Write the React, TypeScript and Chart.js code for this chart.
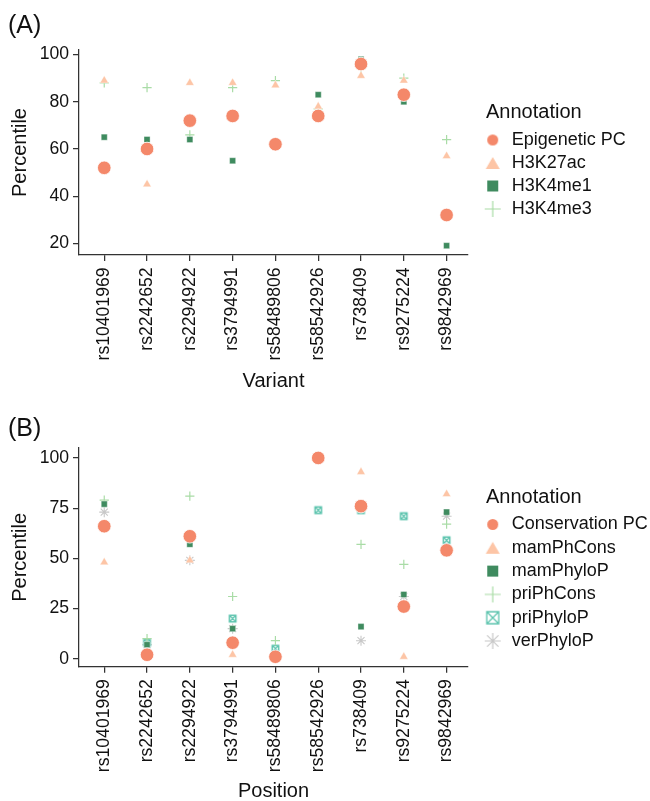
import React, { useEffect, useRef } from 'react';
import { Chart, registerables } from 'chart.js';

Chart.register(...registerables);

const FONT = "'Liberation Sans', Arial, Helvetica, sans-serif";

// ---------- data ----------
const variants = [
  'rs10401969', 'rs2242652', 'rs2294922', 'rs3794991', 'rs58489806',
  'rs58542926', 'rs738409', 'rs9275224', 'rs9842969',
];

// Panel A (epigenetic annotations)
const epigeneticPC = [52, 60, 72, 74, 62, 74, 96, 83, 32];
const h3k27ac = [89, 45, 88, 88, 87, 78, 91, 89, 57];
const h3k4me1 = [65, 64, 64, 55, 62, 83, 98, 80, 19];
const h3k4me3 = [88, 86, 66, 86, 89, 77, 94, 90, 64];

// Panel B (conservation annotations)
const conservationPC = [66, 2, 61, 8, 1, 100, 76, 26, 54];
const mamPhCons = [48, 2, 49, 2, 1, 100, 93, 1, 82];
const mamPhyloP = [77, 7, 57, 15, 2, 100, 16, 32, 73];
const priPhCons = [79, 10, 81, 31, 9, 100, 57, 47, 67];
const priPhyloP = [66, 8, 61, 20, 5, 74, 74, 71, 59];
const verPhyloP = [73, 7, 49, 15, 2, 100, 9, 31, 71];

const yTicksA = [20, 40, 60, 80, 100];
const yTicksB = [0, 25, 50, 75, 100];

// ---------- styles ----------
const C_CIRCLE = '#F4886A';
const C_TRI = '#FDC5A6';
const C_SQ = '#3F8B5F';
const C_PLUS = '#A9DCA6';
const C_BOX = '#5DC4AE';
const C_STAR = '#C8C8C8';

const TICK_SIZE = 17.6;

type Kind = 'circle' | 'triangle' | 'square' | 'plus' | 'boxX' | 'star';

function makeMarker(kind: Kind, color: string, size: number, lw = 1.2): HTMLCanvasElement {
  const dim = Math.ceil(size) + 4;
  const c = document.createElement('canvas');
  c.width = dim;
  c.height = dim;
  const g = c.getContext('2d')!;
  const m = dim / 2;
  const h = size / 2;
  g.fillStyle = color;
  g.strokeStyle = color;
  g.lineWidth = lw;
  g.beginPath();
  if (kind === 'circle') {
    g.arc(m, m, h, 0, Math.PI * 2);
    g.fill();
  } else if (kind === 'triangle') {
    const th = size * 0.86;
    g.moveTo(m, m - th / 2);
    g.lineTo(m + h, m + th / 2);
    g.lineTo(m - h, m + th / 2);
    g.closePath();
    g.fill();
  } else if (kind === 'square') {
    g.fillRect(m - h, m - h, size, size);
  } else if (kind === 'plus') {
    g.moveTo(m - h, m);
    g.lineTo(m + h, m);
    g.moveTo(m, m - h);
    g.lineTo(m, m + h);
    g.stroke();
  } else if (kind === 'boxX') {
    g.rect(m - h, m - h, size, size);
    g.moveTo(m - h, m - h);
    g.lineTo(m + h, m + h);
    g.moveTo(m + h, m - h);
    g.lineTo(m - h, m + h);
    g.stroke();
  } else if (kind === 'star') {
    for (let k = 0; k < 4; k++) {
      const a = (k * Math.PI) / 4;
      g.moveTo(m - Math.cos(a) * h, m - Math.sin(a) * h);
      g.lineTo(m + Math.cos(a) * h, m + Math.sin(a) * h);
    }
    g.stroke();
  }
  return c;
}

const legendSizes: Record<Kind, [number, number]> = {
  circle: [11, 1],
  triangle: [14, 1],
  square: [11, 1],
  plus: [16, 1.2],
  boxX: [12, 1.3],
  star: [16, 1.2],
};

function colorOf(kind: Kind): string {
  return { circle: C_CIRCLE, triangle: C_TRI, square: C_SQ, plus: C_PLUS, boxX: C_BOX, star: C_STAR }[kind];
}

function pointProps(kind: Kind): any {
  const col = colorOf(kind);
  switch (kind) {
    case 'circle':
      return { pointStyle: 'circle', pointRadius: 6.8, backgroundColor: col, borderColor: '#ffffff', borderWidth: 0.8 };
    case 'triangle':
      return { pointStyle: 'triangle', pointRadius: 4.9, backgroundColor: col, borderColor: '#ffffff', borderWidth: 0.4 };
    case 'square':
      return { pointStyle: 'rect', pointRadius: 4.3, backgroundColor: col, borderColor: '#ffffff', borderWidth: 0.4 };
    case 'plus':
      return { pointStyle: 'cross', pointRadius: 4.6, backgroundColor: col, borderColor: col, borderWidth: 1.2 };
    case 'boxX':
      return { pointStyle: makeMarker('boxX', col, 6.5, 1.4), pointRadius: 4, backgroundColor: col, borderColor: col, borderWidth: 1 };
    case 'star':
    default:
      return { pointStyle: 'star', pointRadius: 5, backgroundColor: col, borderColor: col, borderWidth: 1.1 };
  }
}

interface Series { label: string; values: number[]; kind: Kind }

interface PanelSpec {
  title: string;
  xTitle: string;
  series: Series[];
  yMin: number;
  yMax: number;
  yTicks: number[];
  titlePad: { top: number; bottom: number };
  xScaleHeight: number;
  xTitlePadBottom: number;
  legendTitlePad: { top: number; bottom: number };
  legendPadding: number;
}

function buildChart(canvas: HTMLCanvasElement, spec: PanelSpec): Chart {
  const legendMarkers = spec.series.map((s) => {
    const [sz, lw] = legendSizes[s.kind];
    return makeMarker(s.kind, colorOf(s.kind), sz, lw);
  });

  const datasets = spec.series.map((s) => ({
    label: s.label,
    data: s.values.map((v, i) => ({ x: i, y: v })),
    showLine: false,
    ...pointProps(s.kind),
    pointHoverRadius: 0,
  }));

  const legendFix = {
    id: 'legendFix',
    beforeLayout(chart: any) {
      const lg = chart.legend;
      if (lg && !lg.__patched) {
        const orig = lg.fit;
        lg.fit = function () {
          orig.call(this);
          this.width = 182;
        };
        lg.__patched = true;
      }
    },
    afterLayout(chart: any) {
      const lg = chart.legend;
      if (!lg) return;
      const ctx = chart.ctx;
      ctx.save();
      ctx.font = `20px ${FONT}`;
      const tw = ctx.measureText('Annotation').width;
      ctx.restore();
      const left = 492.7 - spec.legendPadding - 10;
      const titleCenter = 486 + tw / 2;
      lg.left = left;
      // width only drives the centred title; right edge keeps the clip wide
      lg.width = 2 * (titleCenter - left);
      lg.right = chart.width;
    },
  };

  return new Chart(canvas, {
    type: 'scatter',
    data: { datasets },
    plugins: [legendFix],
    options: {
      animation: false,
      responsive: false,
      events: [],
      layout: { padding: { left: 8, right: 0, top: 0, bottom: 0 } },
      plugins: {
        tooltip: { enabled: false },
        title: {
          display: true,
          text: spec.title,
          align: 'start',
          color: '#111',
          font: { size: 25, family: FONT, weight: 'normal', lineHeight: 1.2 },
          padding: spec.titlePad,
        },
        legend: {
          display: true,
          position: 'right',
          align: 'start',
          fullSize: false,
          title: {
            display: true,
            text: 'Annotation',
            position: 'center',
            color: '#111',
            font: { size: 20, family: FONT, lineHeight: 1.2 },
            padding: spec.legendTitlePad,
          },
          labels: {
            usePointStyle: true,
            pointStyleWidth: 20,
            padding: spec.legendPadding,
            color: '#111',
            font: { size: 18, family: FONT },
            generateLabels: (chart: any) =>
              chart.data.datasets.map((ds: any, i: number) => ({
                text: ds.label,
                pointStyle: legendMarkers[i],
                fillStyle: colorOf(spec.series[i].kind),
                strokeStyle: colorOf(spec.series[i].kind),
                lineWidth: 0,
                hidden: false,
                datasetIndex: i,
                fontColor: '#111',
              })),
          },
        },
      },
      scales: {
        x: {
          type: 'linear',
          min: -0.59,
          max: 8.5,
          afterBuildTicks: (scale: any) => {
            scale.ticks = variants.map((_, i) => ({ value: i }));
          },
          afterFit: (scale: any) => {
            scale.height = spec.xScaleHeight;
          },
          ticks: {
            autoSkip: false,
            minRotation: 90,
            maxRotation: 90,
            padding: 6.5,
            color: '#111',
            font: { size: TICK_SIZE, family: FONT },
            callback: (v: any) => variants[Math.round(Number(v))] ?? '',
          },
          grid: { display: true, drawOnChartArea: false, drawTicks: true, tickLength: 6, color: '#333', lineWidth: 1.25 },
          border: { display: true, color: '#333', width: 1.25 },
          title: {
            display: true,
            text: spec.xTitle,
            color: '#111',
            font: { size: 20, family: FONT, lineHeight: 1 },
            padding: { top: 0, bottom: spec.xTitlePadBottom },
          },
        },
        y: {
          type: 'linear',
          min: spec.yMin,
          max: spec.yMax,
          afterBuildTicks: (scale: any) => {
            scale.ticks = spec.yTicks.map((v) => ({ value: v }));
          },
          afterFit: (scale: any) => {
            scale.width = 71;
          },
          ticks: {
            padding: 4,
            color: '#111',
            font: { size: TICK_SIZE, family: FONT },
            callback: (v: any) => String(v),
          },
          grid: { display: true, drawOnChartArea: false, drawTicks: true, tickLength: 6, color: '#333', lineWidth: 1.25 },
          border: { display: true, color: '#333', width: 1.25 },
          title: {
            display: true,
            text: 'Percentile',
            color: '#111',
            font: { size: 20, family: FONT, lineHeight: 1 },
            padding: { top: 2.5, bottom: 0 },
          },
        },
      },
    } as any,
  });
}

export default function App() {
  const refA = useRef<HTMLCanvasElement>(null);
  const refB = useRef<HTMLCanvasElement>(null);

  useEffect(() => {
    const chartA = buildChart(refA.current!, {
      title: '(A)',
      xTitle: 'Variant',
      series: [
        { label: 'Epigenetic PC', values: epigeneticPC, kind: 'circle' },
        { label: 'H3K27ac', values: h3k27ac, kind: 'triangle' },
        { label: 'H3K4me1', values: h3k4me1, kind: 'square' },
        { label: 'H3K4me3', values: h3k4me3, kind: 'plus' },
      ],
      yMin: 15.05,
      yMax: 101.95,
      yTicks: yTicksA,
      titlePad: { top: 11.5, bottom: 8.5 },
      xScaleHeight: 145,
      xTitlePadBottom: 8.3,
      legendTitlePad: { top: 52, bottom: 0 },
      legendPadding: 5,
    });
    const chartB = buildChart(refB.current!, {
      title: '(B)',
      xTitle: 'Position',
      series: [
        { label: 'Conservation PC', values: conservationPC, kind: 'circle' },
        { label: 'mamPhCons', values: mamPhCons, kind: 'triangle' },
        { label: 'mamPhyloP', values: mamPhyloP, kind: 'square' },
        { label: 'priPhCons', values: priPhCons, kind: 'plus' },
        { label: 'priPhyloP', values: priPhyloP, kind: 'boxX' },
        { label: 'verPhyloP', values: verPhyloP, kind: 'star' },
      ],
      yMin: -3.95,
      yMax: 104.95,
      yTicks: yTicksB,
      titlePad: { top: 14, bottom: 4 },
      xScaleHeight: 134.3,
      xTitlePadBottom: 0,
      legendTitlePad: { top: 39.2, bottom: -1 },
      legendPadding: 5.3,
    });
    return () => {
      chartA.destroy();
      chartB.destroy();
    };
  }, []);

  return (
    <div style={{ position: 'absolute', left: 0, top: 0, width: 650, height: 801, background: '#fff' }}>
      <canvas ref={refA} width={650} height={400} style={{ position: 'absolute', left: 0, top: 0, width: 650, height: 400 }} />
      <canvas ref={refB} width={650} height={401} style={{ position: 'absolute', left: 0, top: 400, width: 650, height: 401 }} />
    </div>
  );
}
